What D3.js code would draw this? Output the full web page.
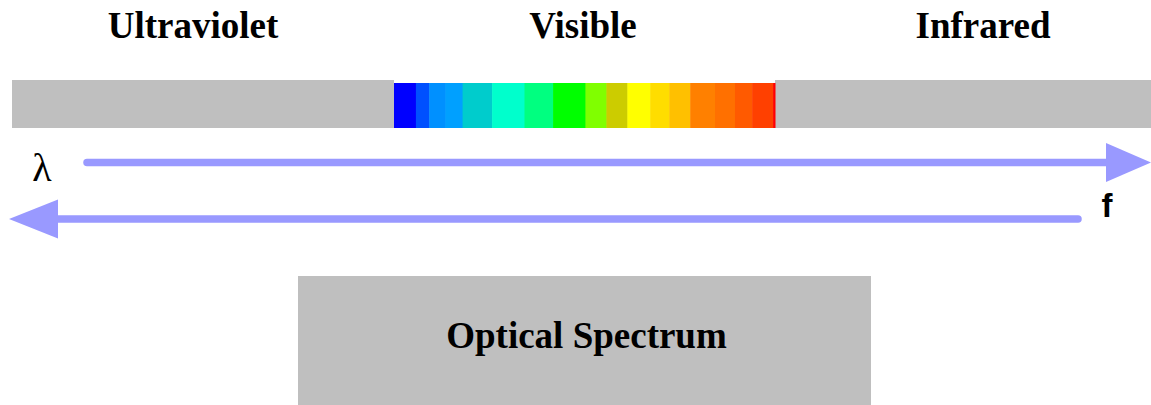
<!DOCTYPE html>
<html>
<head>
<meta charset="utf-8">
<script src="https://cdn.jsdelivr.net/npm/d3@7"></script>
<style>
  html, body { margin: 0; padding: 0; background: #fff; }
  svg { display: block; }
</style>
</head>
<body>
<svg id="chart" width="1151" height="405"></svg>
<script>
// ---- data ----
const regions = ["Ultraviolet", "Visible", "Infrared"];
// visible sub-band edges (nm) and colours
const bandEdges = [380, 403, 417, 434, 452, 483, 517, 547, 581, 603, 625, 649, 669, 691, 717, 738, 756, 778, 780];
const bandColors = ["#0000ff", "#0050ff", "#0090ff", "#00a0ff", "#00cccc", "#00ffcc", "#00ff80", "#00ff00",
                    "#80ff00", "#cccc00", "#ffff00", "#ffdd00", "#ffc000", "#ff8000", "#ff7000", "#ff5a00", "#ff4000", "#ff0000"];
const axisLabels = ["λ", "f"];
const title = "Optical Spectrum";

// ---- layout ----
const svg = d3.select("#chart");
const W = 1151, H = 405;
const grey = "#bfbfbf", arrowCol = "#9999ff";

// three regions along the strip
const edges = { UV: [12, 394], VIS: [394, 775], IR: [775, 1151] };
const stripTop = 80, stripBottom = 128, visTop = 83;

const regionX = d3.scaleOrdinal().domain(regions).range([edges.UV, edges.VIS, edges.IR]);
const titleX = d3.scaleOrdinal().domain(regions).range([193, 583, 983]);

// grey UV / IR blocks
svg.selectAll("rect.region")
  .data(["Ultraviolet", "Infrared"])
  .join("rect")
  .attr("class", "region")
  .attr("x", d => regionX(d)[0])
  .attr("y", stripTop)
  .attr("width", d => regionX(d)[1] - regionX(d)[0])
  .attr("height", stripBottom - stripTop)
  .attr("fill", grey);

// visible spectrum
const x = d3.scaleLinear().domain([bandEdges[0], bandEdges[bandEdges.length - 1]]).range(edges.VIS);
const bands = bandColors.map((c, i) => ({ c, a: bandEdges[i], b: bandEdges[i + 1] }));
svg.selectAll("rect.band")
  .data(bands)
  .join("rect")
  .attr("class", "band")
  .attr("x", d => x(d.a))
  .attr("y", visTop)
  .attr("width", d => x(d.b) - x(d.a) + 0.5)
  .attr("height", stripBottom - visTop)
  .attr("fill", d => d.c);

// titles
svg.selectAll("text.title")
  .data(regions)
  .join("text")
  .attr("class", "title")
  .attr("x", d => titleX(d))
  .attr("y", 38)
  .attr("text-anchor", "middle")
  .attr("font-family", "Liberation Serif, Times New Roman, serif")
  .attr("font-weight", "bold")
  .attr("font-size", 37)
  .attr("fill", "#000")
  .text(d => d);

// arrows
function arrow(x1, x2, y, headLen, headHalf) {
  const dir = Math.sign(x2 - x1);
  const base = x2 - dir * headLen;
  svg.append("line")
    .attr("x1", x1).attr("y1", y).attr("x2", base + dir * 2).attr("y2", y)
    .attr("stroke", arrowCol).attr("stroke-width", 7.5).attr("stroke-linecap", "round");
  svg.append("path")
    .attr("d", `M${base},${y - headHalf} L${x2},${y} L${base},${y + headHalf} Z`)
    .attr("fill", arrowCol);
}
arrow(87, 1151, 162.5, 45, 19.5);
arrow(1078, 9, 219, 49, 19.5);

// axis letters
svg.append("text")
  .attr("x", 42).attr("y", 181)
  .attr("text-anchor", "middle")
  .attr("font-family", "Liberation Serif, Times New Roman, serif")
  .attr("font-size", 40)
  .text(axisLabels[0]);
svg.append("text")
  .attr("x", 1107).attr("y", 217)
  .attr("text-anchor", "middle")
  .attr("font-family", "Liberation Sans, Arial, sans-serif")
  .attr("font-weight", "bold")
  .attr("font-size", 33)
  .text(axisLabels[1]);

// bottom box
svg.append("rect")
  .attr("x", 298).attr("y", 276)
  .attr("width", 871 - 298).attr("height", H - 276)
  .attr("fill", grey);
svg.append("text")
  .attr("x", (298 + 871) / 2 + 2).attr("y", 348)
  .attr("text-anchor", "middle")
  .attr("font-family", "Liberation Serif, Times New Roman, serif")
  .attr("font-weight", "bold")
  .attr("font-size", 37)
  .text(title);
</script>
</body>
</html>
